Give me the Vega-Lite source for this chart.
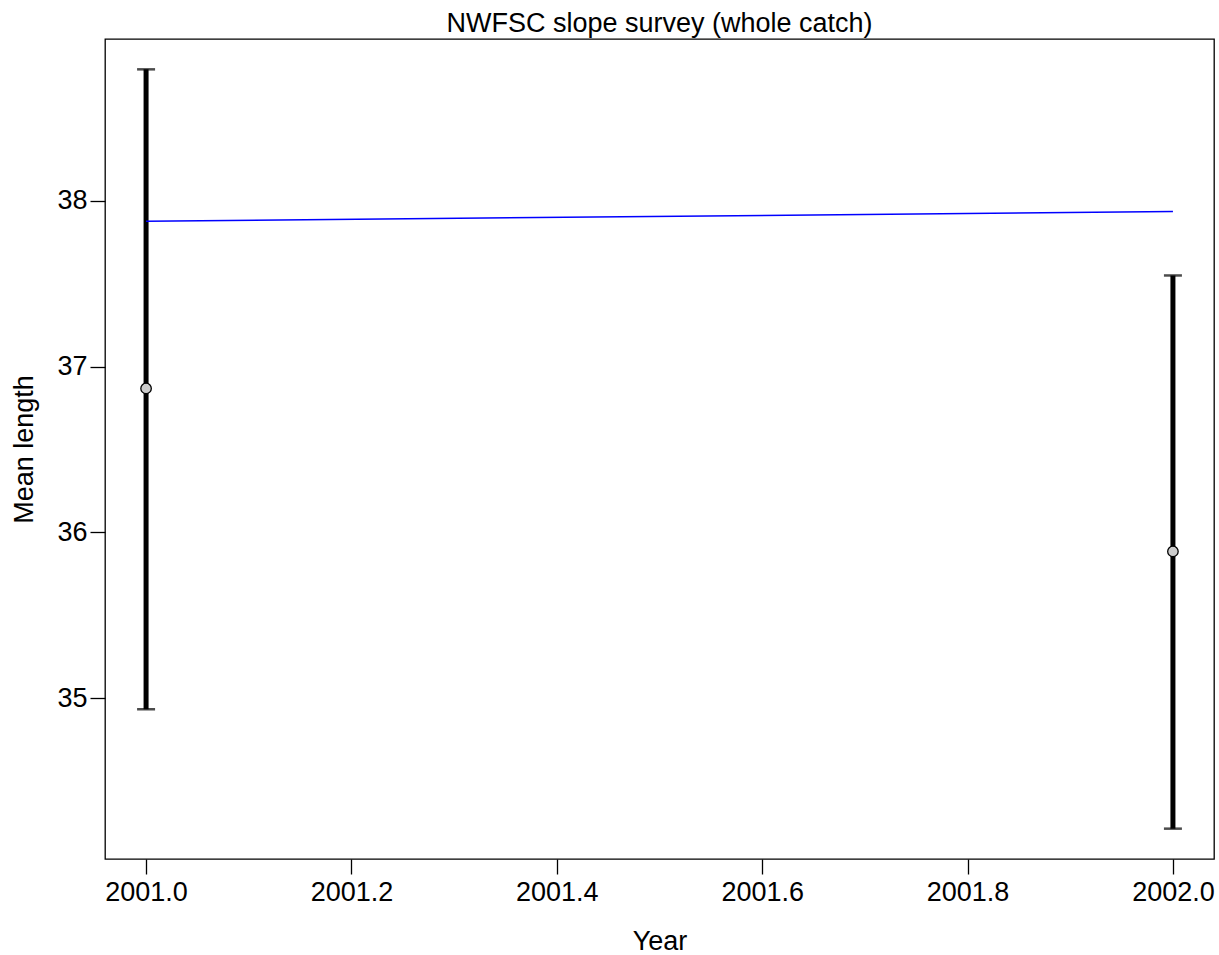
{
  "$schema": "https://vega.github.io/schema/vega-lite/v6.json",
  "width": 1109,
  "height": 820,
  "autosize": {"type": "none"},
  "padding": {"left": 105, "top": 39, "right": 5, "bottom": 96},
  "background": "white",
  "title": {"text": "NWFSC slope survey (whole catch)", "font": "Liberation Sans", "fontSize": 27, "fontWeight": "normal", "color": "black", "offset": 1},
  "config": {
    "view": {"stroke": "black", "strokeWidth": 1.3},
    "axis": {"grid": false, "domain": false, "tickColor": "black", "tickWidth": 1.3, "tickSize": 15, "labelFont": "Liberation Sans", "labelFontSize": 27, "labelColor": "black", "titleFont": "Liberation Sans", "titleFontSize": 27, "titleFontWeight": "normal", "titleColor": "black"}
  },
  "data": {"values": [
    {"year": 2001, "obs": 36.868, "lo": 34.933, "hi": 38.792, "exp": 37.876},
    {"year": 2002, "obs": 35.885, "lo": 34.213, "hi": 37.549, "exp": 37.934}
  ]},
  "encoding": {
    "x": {"field": "year", "type": "quantitative", "scale": {"domain": [2000.96, 2002.04], "nice": false, "zero": false},
      "axis": {"values": [2001, 2001.2, 2001.4, 2001.6, 2001.8, 2002], "format": ".1f", "title": "Year", "labelPadding": 5, "titlePadding": 23}}
  },
  "layer": [
    {"mark": {"type": "rule", "color": "black", "strokeWidth": 5},
     "encoding": {"y": {"field": "lo", "type": "quantitative", "scale": {"domain": [34.03, 38.975], "nice": false, "zero": false},
       "axis": {"values": [35, 36, 37, 38], "format": "d", "title": "Mean length", "labelPadding": 3, "titlePadding": 18}}, "y2": {"field": "hi"}}},
    {"mark": {"type": "tick", "orient": "horizontal", "color": "black", "size": 18, "thickness": 2.5},
     "encoding": {"y": {"field": "lo", "type": "quantitative"}}},
    {"mark": {"type": "tick", "orient": "horizontal", "color": "black", "size": 18, "thickness": 2.5},
     "encoding": {"y": {"field": "hi", "type": "quantitative"}}},
    {"mark": {"type": "line", "color": "blue", "strokeWidth": 1.5},
     "encoding": {"y": {"field": "exp", "type": "quantitative"}}},
    {"mark": {"type": "point", "shape": "circle", "filled": true, "fill": "#cccccc", "stroke": "black", "strokeWidth": 1.3, "size": 110, "opacity": 1},
     "encoding": {"y": {"field": "obs", "type": "quantitative"}}}
  ]
}
